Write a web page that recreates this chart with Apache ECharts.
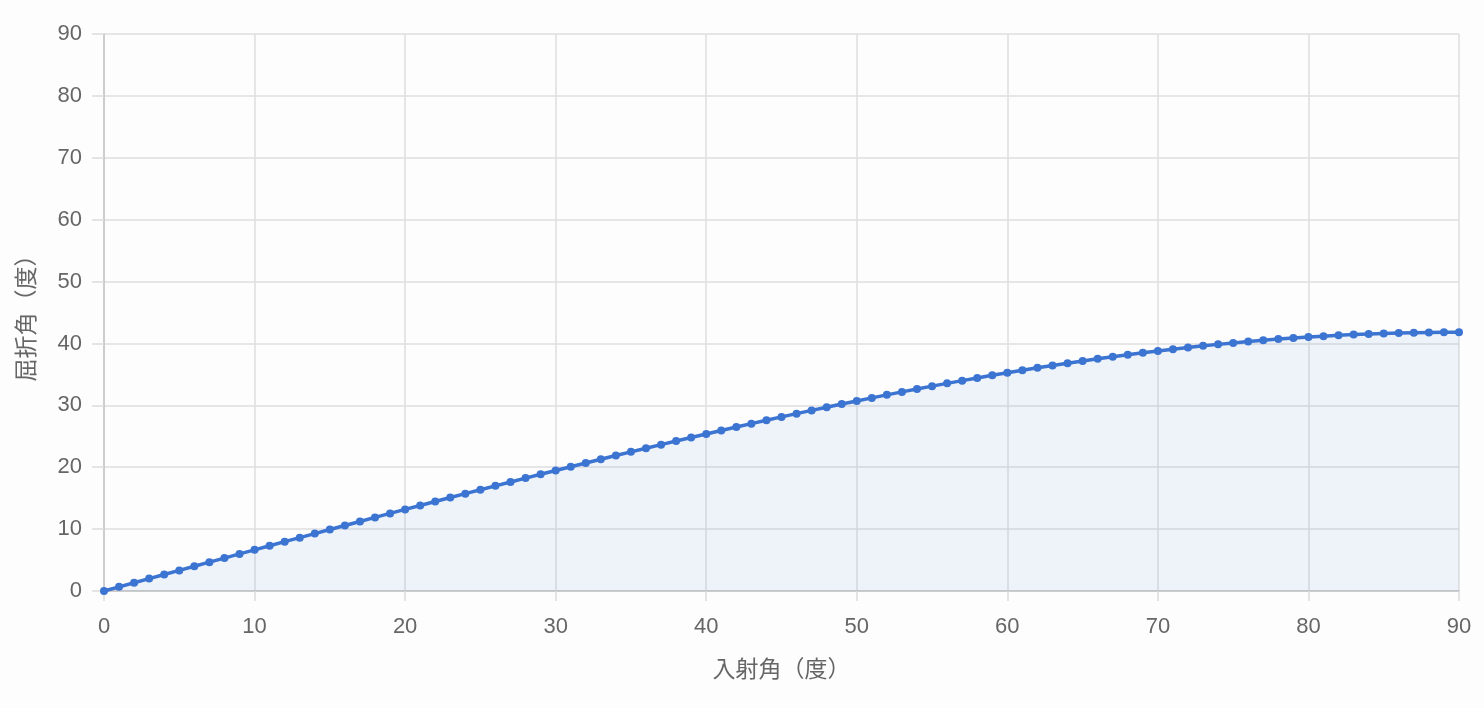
<!DOCTYPE html>
<html>
<head>
<meta charset="utf-8">
<script src="https://cdn.jsdelivr.net/npm/echarts@6/dist/echarts.min.js"></script>
<style>
html,body{margin:0;padding:0;background:#fdfdfd;}
#c{width:1484px;height:708px;}
</style>
</head>
<body>
<div id="c"></div>
<script>
// 入射角 (deg) 0..90
const incidence = [0,1,2,3,4,5,6,7,8,9,10,11,12,13,14,15,16,17,18,19,20,21,22,23,24,25,26,27,28,29,30,31,32,33,34,35,36,37,38,39,40,41,42,43,44,45,46,47,48,49,50,51,52,53,54,55,56,57,58,59,60,61,62,63,64,65,66,67,68,69,70,71,72,73,74,75,76,77,78,79,80,81,82,83,84,85,86,87,88,89,90];
// 屈折角 (deg)
const refraction = [0,0.67,1.33,2.00,2.67,3.33,4.00,4.66,5.32,5.99,6.65,7.31,7.97,8.62,9.28,9.94,10.59,11.24,11.89,12.54,13.18,13.82,14.46,15.10,15.73,16.36,16.99,17.62,18.24,18.86,19.47,20.08,20.69,21.29,21.89,22.48,23.07,23.65,24.23,24.81,25.37,25.94,26.49,27.04,27.59,28.13,28.66,29.18,29.70,30.21,30.71,31.20,31.69,32.17,32.64,33.10,33.55,33.99,34.43,34.85,35.26,35.67,36.06,36.44,36.81,37.17,37.52,37.85,38.18,38.49,38.79,39.08,39.35,39.61,39.85,40.09,40.31,40.51,40.70,40.87,41.04,41.18,41.31,41.43,41.53,41.61,41.69,41.74,41.78,41.80,41.81];
const xTicks = [0,10,20,30,40,50,60,70,80,90];
const yTicks = [0,10,20,30,40,50,60,70,80,90];
const xName = '入射角（度）';
const yName = '屈折角（度）';

const pts = incidence.map((x,i)=>[x, refraction[i]]);
const font = '"Liberation Sans", Arial, "Noto Sans CJK JP", sans-serif';
const chart = echarts.init(document.getElementById('c'));
chart.setOption({
  backgroundColor:'#fdfdfd',
  animation:false,
  grid:{left:104,right:25,top:34,bottom:117,containLabel:false},
  xAxis:{
    type:'value',min:xTicks[0],max:xTicks[xTicks.length-1],interval:10,
    name:xName,nameLocation:'middle',nameGap:66,
    nameTextStyle:{color:'#666',fontSize:23,fontFamily:'"Noto Sans CJK JP", sans-serif'},
    axisLine:{show:true,onZero:false,lineStyle:{color:'#c4c4c4',width:1.5}},
    axisTick:{show:true,length:10,lineStyle:{color:'#dcdcdc',width:1.5}},
    axisLabel:{color:'#666',fontSize:22,margin:25,fontFamily:font},
    splitLine:{show:true,lineStyle:{color:'#dedede',width:1.5}}
  },
  yAxis:{
    type:'value',min:yTicks[0],max:yTicks[yTicks.length-1],interval:10,
    name:yName,nameLocation:'middle',nameGap:67,
    nameTextStyle:{color:'#666',fontSize:23,fontFamily:'"Noto Sans CJK JP", sans-serif'},
    axisLine:{show:true,lineStyle:{color:'#c4c4c4',width:1.5}},
    axisTick:{show:true,length:12,lineStyle:{color:'#dcdcdc',width:1.5}},
    axisLabel:{color:'#666',fontSize:22,margin:22,fontFamily:font},
    splitLine:{show:true,lineStyle:{color:'#dedede',width:1.5}}
  },
  series:[{
    type:'line',data:pts,
    symbol:'circle',symbolSize:8,showSymbol:true,
    lineStyle:{color:'#3c74d2',width:3.5},
    itemStyle:{color:'#3c74d2'},
    areaStyle:{color:'rgba(60,116,210,0.11)'}
  }]
});
</script>
</body>
</html>
